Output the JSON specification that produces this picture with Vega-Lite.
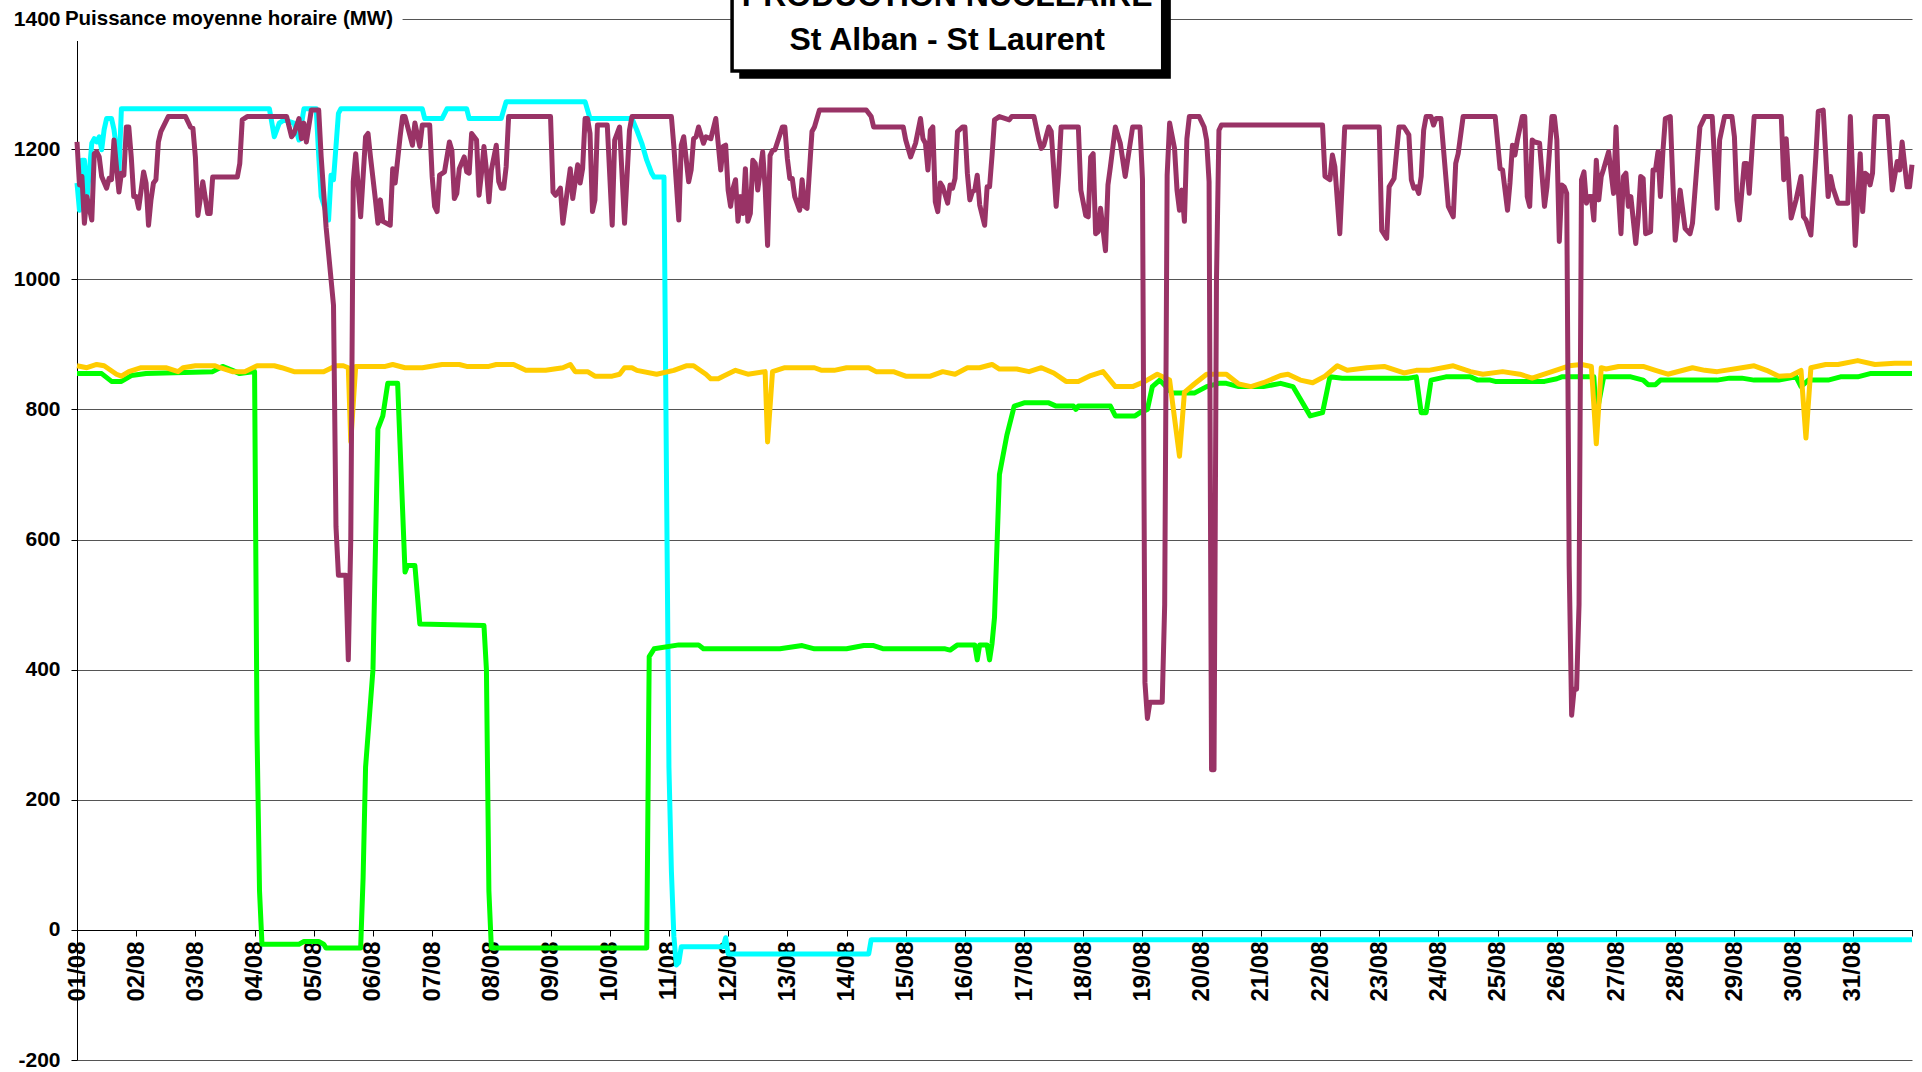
{
  "$schema": "https://vega.github.io/schema/vega-lite/v6.json",
  "width": 1835,
  "height": 1041,
  "autosize": {"type": "none"},
  "padding": {"left": 77, "top": 19, "right": 10, "bottom": 12},
  "background": "white",
  "config": {"view": {"stroke": null}},
  "datasets": {
    "stAlban1": [
      {"h":0,"mw":1148},{"h":1,"mw":1106},{"h":2,"mw":1183},{"h":3,"mw":1183},{"h":4,"mw":1122},{"h":6,"mw":1209},{"h":7,"mw":1216},{"h":8,"mw":1211},{"h":9,"mw":1219},{"h":10,"mw":1199},{"h":11,"mw":1230},{"h":12,"mw":1247},{"h":14,"mw":1247},{"h":15,"mw":1230},{"h":16,"mw":1200},{"h":17,"mw":1165},{"h":18,"mw":1262},{"h":78,"mw":1262},{"h":80,"mw":1219},{"h":82,"mw":1240},{"h":84,"mw":1245},{"h":88,"mw":1240},{"h":90,"mw":1214},{"h":92,"mw":1262},{"h":97,"mw":1262},{"h":98,"mw":1190},{"h":99,"mw":1127},{"h":102,"mw":1091},{"h":103,"mw":1160},{"h":104,"mw":1153},{"h":106,"mw":1255},{"h":107,"mw":1262},{"h":140,"mw":1262},{"h":141,"mw":1247},{"h":148,"mw":1247},{"h":150,"mw":1262},{"h":158,"mw":1262},{"h":159,"mw":1247},{"h":172,"mw":1247},{"h":174,"mw":1273},{"h":206,"mw":1273},{"h":208,"mw":1247},{"h":225,"mw":1247},{"h":227,"mw":1229},{"h":229,"mw":1209},{"h":231,"mw":1183},{"h":233,"mw":1163},{"h":234,"mw":1157},{"h":238,"mw":1157},{"h":239,"mw":700},{"h":240,"mw":250},{"h":241,"mw":90},{"h":242,"mw":-10},{"h":243,"mw":-54},{"h":244,"mw":-50},{"h":245,"mw":-26},{"h":262,"mw":-26},{"h":263,"mw":-12},{"h":264,"mw":-37},{"h":321,"mw":-37},{"h":322,"mw":-15},{"h":744,"mw":-15}
    ],
    "stLaurentB1": [
      {"h":0,"mw":855},{"h":10,"mw":855},{"h":14,"mw":843},{"h":18,"mw":843},{"h":22,"mw":852},{"h":28,"mw":855},{"h":55,"mw":858},{"h":59,"mw":866},{"h":63,"mw":860},{"h":66,"mw":855},{"h":72,"mw":858},{"h":73,"mw":300},{"h":74,"mw":60},{"h":75,"mw":-22},{"h":90,"mw":-22},{"h":92,"mw":-18},{"h":98,"mw":-18},{"h":100,"mw":-22},{"h":101,"mw":-28},{"h":115,"mw":-28},{"h":116,"mw":80},{"h":117,"mw":250},{"h":119,"mw":350},{"h":120,"mw":400},{"h":122,"mw":770},{"h":124,"mw":790},{"h":126,"mw":840},{"h":130,"mw":840},{"h":133,"mw":550},{"h":134,"mw":560},{"h":137,"mw":560},{"h":139,"mw":470},{"h":165,"mw":468},{"h":166,"mw":400},{"h":167,"mw":60},{"h":168,"mw":-28},{"h":231,"mw":-28},{"h":232,"mw":420},{"h":234,"mw":432},{"h":244,"mw":438},{"h":252,"mw":438},{"h":254,"mw":432},{"h":285,"mw":432},{"h":294,"mw":437},{"h":299,"mw":432},{"h":312,"mw":432},{"h":319,"mw":437},{"h":323,"mw":437},{"h":327,"mw":432},{"h":352,"mw":432},{"h":354,"mw":430},{"h":357,"mw":438},{"h":364,"mw":438},{"h":365,"mw":415},{"h":366,"mw":438},{"h":369,"mw":438},{"h":370,"mw":415},{"h":371,"mw":440},{"h":372,"mw":480},{"h":374,"mw":700},{"h":377,"mw":760},{"h":380,"mw":805},{"h":384,"mw":810},{"h":394,"mw":810},{"h":397,"mw":805},{"h":404,"mw":805},{"h":405,"mw":800},{"h":406,"mw":805},{"h":419,"mw":805},{"h":421,"mw":790},{"h":429,"mw":790},{"h":431,"mw":795},{"h":434,"mw":800},{"h":436,"mw":835},{"h":439,"mw":845},{"h":444,"mw":825},{"h":453,"mw":825},{"h":458,"mw":835},{"h":463,"mw":840},{"h":466,"mw":840},{"h":471,"mw":835},{"h":481,"mw":835},{"h":488,"mw":840},{"h":493,"mw":835},{"h":500,"mw":790},{"h":505,"mw":795},{"h":508,"mw":850},{"h":513,"mw":848},{"h":540,"mw":848},{"h":543,"mw":850},{"h":545,"mw":795},{"h":547,"mw":795},{"h":549,"mw":845},{"h":555,"mw":850},{"h":565,"mw":850},{"h":568,"mw":845},{"h":573,"mw":845},{"h":575,"mw":843},{"h":595,"mw":843},{"h":600,"mw":847},{"h":602,"mw":850},{"h":615,"mw":850},{"h":616,"mw":790},{"h":619,"mw":850},{"h":630,"mw":850},{"h":635,"mw":845},{"h":637,"mw":838},{"h":640,"mw":838},{"h":642,"mw":845},{"h":665,"mw":845},{"h":670,"mw":848},{"h":675,"mw":848},{"h":680,"mw":845},{"h":690,"mw":845},{"h":697,"mw":850},{"h":699,"mw":835},{"h":702,"mw":845},{"h":710,"mw":845},{"h":715,"mw":850},{"h":722,"mw":850},{"h":727,"mw":855},{"h":744,"mw":855}
    ],
    "stLaurentB2": [
      {"h":0,"mw":867},{"h":4,"mw":864},{"h":8,"mw":869},{"h":11,"mw":867},{"h":16,"mw":854},{"h":18,"mw":851},{"h":21,"mw":858},{"h":26,"mw":864},{"h":36,"mw":864},{"h":41,"mw":858},{"h":43,"mw":864},{"h":48,"mw":867},{"h":56,"mw":867},{"h":58,"mw":864},{"h":63,"mw":858},{"h":68,"mw":858},{"h":73,"mw":867},{"h":80,"mw":867},{"h":83,"mw":864},{"h":88,"mw":858},{"h":100,"mw":858},{"h":105,"mw":867},{"h":108,"mw":867},{"h":110,"mw":864},{"h":111,"mw":750},{"h":113,"mw":866},{"h":125,"mw":866},{"h":128,"mw":869},{"h":133,"mw":864},{"h":140,"mw":864},{"h":148,"mw":869},{"h":155,"mw":869},{"h":158,"mw":866},{"h":167,"mw":866},{"h":170,"mw":869},{"h":177,"mw":869},{"h":182,"mw":860},{"h":190,"mw":860},{"h":197,"mw":864},{"h":200,"mw":869},{"h":202,"mw":858},{"h":207,"mw":858},{"h":210,"mw":851},{"h":217,"mw":851},{"h":220,"mw":854},{"h":222,"mw":864},{"h":225,"mw":864},{"h":227,"mw":860},{"h":235,"mw":854},{"h":242,"mw":860},{"h":247,"mw":867},{"h":250,"mw":867},{"h":255,"mw":854},{"h":257,"mw":847},{"h":260,"mw":847},{"h":262,"mw":851},{"h":267,"mw":860},{"h":272,"mw":854},{"h":279,"mw":858},{"h":280,"mw":750},{"h":282,"mw":858},{"h":287,"mw":864},{"h":299,"mw":864},{"h":302,"mw":860},{"h":307,"mw":860},{"h":312,"mw":864},{"h":321,"mw":864},{"h":324,"mw":858},{"h":331,"mw":858},{"h":336,"mw":851},{"h":346,"mw":851},{"h":351,"mw":858},{"h":356,"mw":854},{"h":361,"mw":864},{"h":366,"mw":864},{"h":369,"mw":867},{"h":371,"mw":869},{"h":374,"mw":862},{"h":381,"mw":862},{"h":386,"mw":858},{"h":391,"mw":864},{"h":396,"mw":856},{"h":401,"mw":843},{"h":406,"mw":843},{"h":411,"mw":852},{"h":416,"mw":858},{"h":421,"mw":835},{"h":428,"mw":835},{"h":433,"mw":843},{"h":438,"mw":854},{"h":443,"mw":845},{"h":447,"mw":728},{"h":449,"mw":826},{"h":453,"mw":839},{"h":458,"mw":854},{"h":466,"mw":854},{"h":471,"mw":839},{"h":476,"mw":835},{"h":481,"mw":841},{"h":488,"mw":852},{"h":491,"mw":854},{"h":496,"mw":845},{"h":501,"mw":841},{"h":506,"mw":851},{"h":511,"mw":867},{"h":515,"mw":860},{"h":523,"mw":864},{"h":530,"mw":866},{"h":538,"mw":856},{"h":543,"mw":860},{"h":548,"mw":860},{"h":558,"mw":867},{"h":565,"mw":858},{"h":570,"mw":854},{"h":578,"mw":858},{"h":585,"mw":854},{"h":590,"mw":848},{"h":598,"mw":858},{"h":605,"mw":867},{"h":610,"mw":869},{"h":614,"mw":866},{"h":616,"mw":747},{"h":618,"mw":864},{"h":620,"mw":862},{"h":625,"mw":866},{"h":635,"mw":866},{"h":640,"mw":860},{"h":645,"mw":854},{"h":655,"mw":864},{"h":660,"mw":860},{"h":665,"mw":858},{"h":675,"mw":864},{"h":680,"mw":867},{"h":685,"mw":860},{"h":690,"mw":851},{"h":695,"mw":852},{"h":699,"mw":860},{"h":701,"mw":756},{"h":703,"mw":864},{"h":709,"mw":869},{"h":714,"mw":869},{"h":722,"mw":875},{"h":729,"mw":869},{"h":737,"mw":871},{"h":744,"mw":871}
    ],
    "stAlban2": [
      {"h":0,"mw":1211},{"h":1,"mw":1145},{"h":2,"mw":1158},{"h":3,"mw":1086},{"h":4,"mw":1127},{"h":6,"mw":1091},{"h":7,"mw":1193},{"h":8,"mw":1196},{"h":9,"mw":1188},{"h":10,"mw":1158},{"h":12,"mw":1140},{"h":13,"mw":1155},{"h":14,"mw":1153},{"h":15,"mw":1214},{"h":16,"mw":1173},{"h":17,"mw":1134},{"h":18,"mw":1163},{"h":19,"mw":1160},{"h":20,"mw":1234},{"h":21,"mw":1234},{"h":22,"mw":1188},{"h":23,"mw":1127},{"h":24,"mw":1127},{"h":25,"mw":1109},{"h":27,"mw":1165},{"h":28,"mw":1148},{"h":29,"mw":1083},{"h":30,"mw":1122},{"h":31,"mw":1148},{"h":32,"mw":1153},{"h":33,"mw":1211},{"h":34,"mw":1227},{"h":37,"mw":1250},{"h":44,"mw":1250},{"h":46,"mw":1234},{"h":47,"mw":1232},{"h":48,"mw":1188},{"h":49,"mw":1098},{"h":51,"mw":1150},{"h":53,"mw":1101},{"h":54,"mw":1101},{"h":55,"mw":1157},{"h":65,"mw":1157},{"h":66,"mw":1178},{"h":67,"mw":1245},{"h":69,"mw":1250},{"h":85,"mw":1250},{"h":87,"mw":1219},{"h":88,"mw":1224},{"h":90,"mw":1247},{"h":91,"mw":1216},{"h":92,"mw":1240},{"h":93,"mw":1211},{"h":95,"mw":1260},{"h":98,"mw":1260},{"h":99,"mw":1188},{"h":101,"mw":1080},{"h":103,"mw":1000},{"h":104,"mw":960},{"h":105,"mw":620},{"h":106,"mw":545},{"h":109,"mw":545},{"h":110,"mw":415},{"h":111,"mw":600},{"h":112,"mw":1150},{"h":113,"mw":1193},{"h":115,"mw":1096},{"h":117,"mw":1219},{"h":118,"mw":1224},{"h":119,"mw":1188},{"h":121,"mw":1122},{"h":122,"mw":1086},{"h":123,"mw":1122},{"h":124,"mw":1089},{"h":127,"mw":1083},{"h":128,"mw":1170},{"h":129,"mw":1148},{"h":131,"mw":1219},{"h":132,"mw":1250},{"h":133,"mw":1250},{"h":136,"mw":1206},{"h":137,"mw":1240},{"h":139,"mw":1204},{"h":140,"mw":1237},{"h":143,"mw":1237},{"h":144,"mw":1158},{"h":145,"mw":1112},{"h":146,"mw":1104},{"h":147,"mw":1160},{"h":149,"mw":1165},{"h":151,"mw":1211},{"h":152,"mw":1198},{"h":153,"mw":1124},{"h":154,"mw":1132},{"h":155,"mw":1170},{"h":157,"mw":1188},{"h":158,"mw":1165},{"h":159,"mw":1163},{"h":160,"mw":1224},{"h":162,"mw":1214},{"h":163,"mw":1129},{"h":164,"mw":1163},{"h":165,"mw":1204},{"h":166,"mw":1168},{"h":167,"mw":1119},{"h":168,"mw":1168},{"h":170,"mw":1206},{"h":171,"mw":1150},{"h":172,"mw":1140},{"h":173,"mw":1140},{"h":174,"mw":1173},{"h":175,"mw":1250},{"h":192,"mw":1250},{"h":193,"mw":1134},{"h":194,"mw":1129},{"h":196,"mw":1140},{"h":197,"mw":1086},{"h":200,"mw":1170},{"h":201,"mw":1124},{"h":203,"mw":1176},{"h":204,"mw":1148},{"h":205,"mw":1170},{"h":206,"mw":1247},{"h":207,"mw":1247},{"h":208,"mw":1224},{"h":209,"mw":1104},{"h":210,"mw":1122},{"h":211,"mw":1237},{"h":215,"mw":1237},{"h":217,"mw":1083},{"h":218,"mw":1214},{"h":220,"mw":1234},{"h":222,"mw":1086},{"h":224,"mw":1229},{"h":225,"mw":1250},{"h":241,"mw":1250},{"h":242,"mw":1204},{"h":244,"mw":1091},{"h":245,"mw":1206},{"h":246,"mw":1219},{"h":248,"mw":1150},{"h":249,"mw":1168},{"h":250,"mw":1216},{"h":251,"mw":1219},{"h":252,"mw":1234},{"h":254,"mw":1209},{"h":255,"mw":1219},{"h":257,"mw":1216},{"h":259,"mw":1247},{"h":261,"mw":1168},{"h":262,"mw":1204},{"h":263,"mw":1206},{"h":264,"mw":1137},{"h":265,"mw":1112},{"h":266,"mw":1140},{"h":267,"mw":1153},{"h":268,"mw":1089},{"h":269,"mw":1127},{"h":270,"mw":1101},{"h":271,"mw":1170},{"h":272,"mw":1089},{"h":273,"mw":1101},{"h":274,"mw":1183},{"h":275,"mw":1178},{"h":276,"mw":1137},{"h":278,"mw":1196},{"h":279,"mw":1142},{"h":280,"mw":1052},{"h":281,"mw":1190},{"h":282,"mw":1198},{"h":283,"mw":1199},{"h":286,"mw":1234},{"h":287,"mw":1234},{"h":288,"mw":1186},{"h":289,"mw":1155},{"h":290,"mw":1155},{"h":291,"mw":1127},{"h":293,"mw":1106},{"h":294,"mw":1153},{"h":295,"mw":1112},{"h":296,"mw":1109},{"h":298,"mw":1227},{"h":299,"mw":1234},{"h":301,"mw":1260},{"h":320,"mw":1260},{"h":322,"mw":1250},{"h":323,"mw":1234},{"h":335,"mw":1234},{"h":336,"mw":1214},{"h":338,"mw":1188},{"h":340,"mw":1209},{"h":342,"mw":1247},{"h":343,"mw":1216},{"h":344,"mw":1209},{"h":345,"mw":1168},{"h":346,"mw":1229},{"h":347,"mw":1234},{"h":348,"mw":1119},{"h":349,"mw":1104},{"h":350,"mw":1148},{"h":351,"mw":1142},{"h":353,"mw":1117},{"h":354,"mw":1145},{"h":355,"mw":1140},{"h":356,"mw":1155},{"h":357,"mw":1227},{"h":359,"mw":1234},{"h":360,"mw":1234},{"h":361,"mw":1163},{"h":362,"mw":1122},{"h":363,"mw":1134},{"h":364,"mw":1137},{"h":365,"mw":1160},{"h":366,"mw":1114},{"h":368,"mw":1083},{"h":369,"mw":1142},{"h":370,"mw":1142},{"h":371,"mw":1190},{"h":372,"mw":1245},{"h":374,"mw":1250},{"h":378,"mw":1245},{"h":379,"mw":1250},{"h":388,"mw":1250},{"h":390,"mw":1214},{"h":391,"mw":1201},{"h":392,"mw":1206},{"h":394,"mw":1234},{"h":395,"mw":1227},{"h":397,"mw":1112},{"h":398,"mw":1163},{"h":399,"mw":1234},{"h":406,"mw":1234},{"h":407,"mw":1137},{"h":409,"mw":1098},{"h":410,"mw":1096},{"h":411,"mw":1188},{"h":412,"mw":1193},{"h":413,"mw":1070},{"h":414,"mw":1073},{"h":415,"mw":1109},{"h":417,"mw":1044},{"h":418,"mw":1145},{"h":419,"mw":1173},{"h":421,"mw":1234},{"h":423,"mw":1209},{"h":425,"mw":1158},{"h":428,"mw":1234},{"h":431,"mw":1234},{"h":432,"mw":1153},{"h":433,"mw":380},{"h":434,"mw":325},{"h":435,"mw":350},{"h":440,"mw":350},{"h":441,"mw":500},{"h":442,"mw":1160},{"h":443,"mw":1240},{"h":445,"mw":1201},{"h":446,"mw":1137},{"h":447,"mw":1106},{"h":448,"mw":1137},{"h":449,"mw":1089},{"h":450,"mw":1216},{"h":451,"mw":1250},{"h":455,"mw":1250},{"h":457,"mw":1234},{"h":458,"mw":1214},{"h":459,"mw":1150},{"h":460,"mw":246},{"h":461,"mw":246},{"h":462,"mw":1000},{"h":463,"mw":1229},{"h":464,"mw":1237},{"h":505,"mw":1237},{"h":506,"mw":1158},{"h":508,"mw":1153},{"h":509,"mw":1191},{"h":510,"mw":1173},{"h":512,"mw":1070},{"h":514,"mw":1234},{"h":528,"mw":1234},{"h":529,"mw":1075},{"h":531,"mw":1063},{"h":532,"mw":1142},{"h":534,"mw":1155},{"h":536,"mw":1234},{"h":538,"mw":1234},{"h":540,"mw":1222},{"h":541,"mw":1153},{"h":542,"mw":1140},{"h":543,"mw":1142},{"h":544,"mw":1132},{"h":545,"mw":1158},{"h":546,"mw":1229},{"h":547,"mw":1250},{"h":549,"mw":1250},{"h":550,"mw":1237},{"h":551,"mw":1247},{"h":553,"mw":1247},{"h":556,"mw":1112},{"h":558,"mw":1096},{"h":559,"mw":1178},{"h":560,"mw":1193},{"h":562,"mw":1250},{"h":575,"mw":1250},{"h":577,"mw":1170},{"h":578,"mw":1168},{"h":580,"mw":1106},{"h":581,"mw":1148},{"h":582,"mw":1206},{"h":583,"mw":1191},{"h":584,"mw":1214},{"h":586,"mw":1250},{"h":587,"mw":1250},{"h":588,"mw":1127},{"h":589,"mw":1112},{"h":590,"mw":1214},{"h":591,"mw":1211},{"h":593,"mw":1209},{"h":595,"mw":1112},{"h":596,"mw":1142},{"h":598,"mw":1250},{"h":599,"mw":1250},{"h":600,"mw":1214},{"h":601,"mw":1058},{"h":602,"mw":1145},{"h":603,"mw":1142},{"h":604,"mw":1132},{"h":605,"mw":560},{"h":606,"mw":330},{"h":607,"mw":370},{"h":608,"mw":370},{"h":609,"mw":500},{"h":610,"mw":1153},{"h":611,"mw":1165},{"h":612,"mw":1117},{"h":613,"mw":1127},{"h":614,"mw":1127},{"h":615,"mw":1091},{"h":616,"mw":1183},{"h":617,"mw":1122},{"h":618,"mw":1158},{"h":619,"mw":1170},{"h":621,"mw":1196},{"h":623,"mw":1132},{"h":624,"mw":1234},{"h":625,"mw":1132},{"h":626,"mw":1070},{"h":627,"mw":1158},{"h":628,"mw":1163},{"h":629,"mw":1112},{"h":630,"mw":1127},{"h":632,"mw":1055},{"h":633,"mw":1096},{"h":634,"mw":1158},{"h":635,"mw":1155},{"h":636,"mw":1070},{"h":638,"mw":1073},{"h":639,"mw":1168},{"h":640,"mw":1168},{"h":641,"mw":1196},{"h":642,"mw":1127},{"h":643,"mw":1196},{"h":644,"mw":1247},{"h":646,"mw":1250},{"h":647,"mw":1153},{"h":648,"mw":1060},{"h":650,"mw":1137},{"h":652,"mw":1078},{"h":654,"mw":1070},{"h":655,"mw":1086},{"h":658,"mw":1234},{"h":660,"mw":1250},{"h":663,"mw":1250},{"h":665,"mw":1109},{"h":666,"mw":1214},{"h":668,"mw":1250},{"h":671,"mw":1250},{"h":672,"mw":1219},{"h":673,"mw":1122},{"h":674,"mw":1091},{"h":676,"mw":1178},{"h":677,"mw":1178},{"h":678,"mw":1132},{"h":680,"mw":1250},{"h":691,"mw":1250},{"h":692,"mw":1153},{"h":693,"mw":1216},{"h":695,"mw":1094},{"h":697,"mw":1122},{"h":699,"mw":1158},{"h":700,"mw":1096},{"h":701,"mw":1091},{"h":703,"mw":1068},{"h":705,"mw":1188},{"h":706,"mw":1258},{"h":708,"mw":1260},{"h":710,"mw":1127},{"h":711,"mw":1158},{"h":712,"mw":1140},{"h":714,"mw":1117},{"h":718,"mw":1117},{"h":719,"mw":1250},{"h":721,"mw":1052},{"h":723,"mw":1193},{"h":724,"mw":1104},{"h":725,"mw":1163},{"h":726,"mw":1160},{"h":727,"mw":1145},{"h":728,"mw":1163},{"h":729,"mw":1250},{"h":734,"mw":1250},{"h":736,"mw":1137},{"h":738,"mw":1181},{"h":739,"mw":1168},{"h":740,"mw":1211},{"h":742,"mw":1142},{"h":743,"mw":1142},{"h":744,"mw":1176}
    ]
  },
  "layer": [
    {
      "data": {"name": "stAlban1"},
      "mark": {"type": "line", "color": "#00FFFF", "strokeWidth": 5, "strokeJoin": "round"},
      "encoding": {
        "x": {
          "field": "h",
          "type": "quantitative",
          "scale": {"domain": [0, 744], "nice": false, "zero": false},
          "axis": {
            "title": null,
            "values": [0,24,48,72,96,120,144,168,192,216,240,264,288,312,336,360,384,408,432,456,480,504,528,552,576,600,624,648,672,696,720,744],
            "labelExpr": "datum.value > 740 ? '' : (datum.value < 216 ? '0' : '') + format(datum.value / 24 + 1, 'd') + '/08'",
            "labelAngle": 270,
            "labelAlign": "right",
            "labelBaseline": "middle",
            "labelFont": "Liberation Sans",
            "labelFontWeight": "bold",
            "labelFontSize": 24,
            "labelColor": "#000000",
            "labelPadding": 5,
            "labelFlush": false,
            "labelOverlap": false,
            "tickSize": 6,
            "tickColor": "#000000",
            "domainColor": "#000000",
            "grid": false,
            "offset": -130
          }
        },
        "y": {
          "field": "mw",
          "type": "quantitative",
          "scale": {"domain": [-200, 1400], "nice": false, "zero": false},
          "axis": {
            "title": null,
            "values": [-200,0,200,400,600,800,1000,1200,1400],
            "labelExpr": "'' + datum.value",
            "labelFont": "Liberation Sans",
            "labelFontWeight": "bold",
            "labelFontSize": 21,
            "labelColor": "#000000",
            "labelPadding": 11,
            "labelFlush": false,
            "labelOverlap": false,
            "tickSize": 6,
            "tickColor": "#000000",
            "domainColor": "#000000",
            "grid": true,
            "gridColor": "#555555"
          }
        }
      }
    },
    {
      "data": {"name": "stLaurentB1"},
      "mark": {"type": "line", "color": "#00FF00", "strokeWidth": 5, "strokeJoin": "round"},
      "encoding": {"x": {"field": "h", "type": "quantitative"}, "y": {"field": "mw", "type": "quantitative"}}
    },
    {
      "data": {"name": "stLaurentB2"},
      "mark": {"type": "line", "color": "#FFCC00", "strokeWidth": 5, "strokeJoin": "round"},
      "encoding": {"x": {"field": "h", "type": "quantitative"}, "y": {"field": "mw", "type": "quantitative"}}
    },
    {
      "data": {"name": "stAlban2"},
      "mark": {"type": "line", "color": "#993366", "strokeWidth": 5, "strokeJoin": "round"},
      "encoding": {"x": {"field": "h", "type": "quantitative"}, "y": {"field": "mw", "type": "quantitative"}}
    },
    {
      "data": {"values": [{"x0": -6, "x1": 132, "y0": 1366, "y1": 1440}]},
      "mark": {"type": "rect", "color": "white"},
      "encoding": {
        "x": {"field": "x0", "type": "quantitative"},
        "x2": {"field": "x1"},
        "y": {"field": "y0", "type": "quantitative"},
        "y2": {"field": "y1"}
      }
    },
    {
      "data": {"values": [{"x0": -4.9, "y0": 1400, "label": "Puissance moyenne horaire (MW)"}]},
      "mark": {"type": "text", "align": "left", "baseline": "middle", "font": "Liberation Sans", "fontSize": 20.5, "fontWeight": "bold", "color": "#000000"},
      "encoding": {
        "x": {"field": "x0", "type": "quantitative"},
        "y": {"field": "y0", "type": "quantitative"},
        "text": {"field": "label"}
      }
    },
    {
      "data": {"values": [{"x0": 268.5, "x1": 443.5, "y0": 1308, "y1": 1450}]},
      "mark": {"type": "rect", "color": "#000000"},
      "encoding": {
        "x": {"field": "x0", "type": "quantitative"},
        "x2": {"field": "x1"},
        "y": {"field": "y0", "type": "quantitative"},
        "y2": {"field": "y1"}
      }
    },
    {
      "data": {"values": [{"x0": 265.6, "x1": 440.2, "y0": 1320, "y1": 1450}]},
      "mark": {"type": "rect", "fill": "white", "stroke": "#000000", "strokeWidth": 3.5},
      "encoding": {
        "x": {"field": "x0", "type": "quantitative"},
        "x2": {"field": "x1"},
        "y": {"field": "y0", "type": "quantitative"},
        "y2": {"field": "y1"}
      }
    },
    {
      "data": {"values": [{"x0": 352.8, "y0": 1420, "label": "PRODUCTION NUCLEAIRE"}, {"x0": 352.8, "y0": 1353, "label": "St Alban - St Laurent"}]},
      "mark": {"type": "text", "align": "center", "baseline": "alphabetic", "font": "Liberation Sans", "fontSize": 32, "fontWeight": "bold", "color": "#000000"},
      "encoding": {
        "x": {"field": "x0", "type": "quantitative"},
        "y": {"field": "y0", "type": "quantitative"},
        "text": {"field": "label"}
      }
    }
  ]
}
